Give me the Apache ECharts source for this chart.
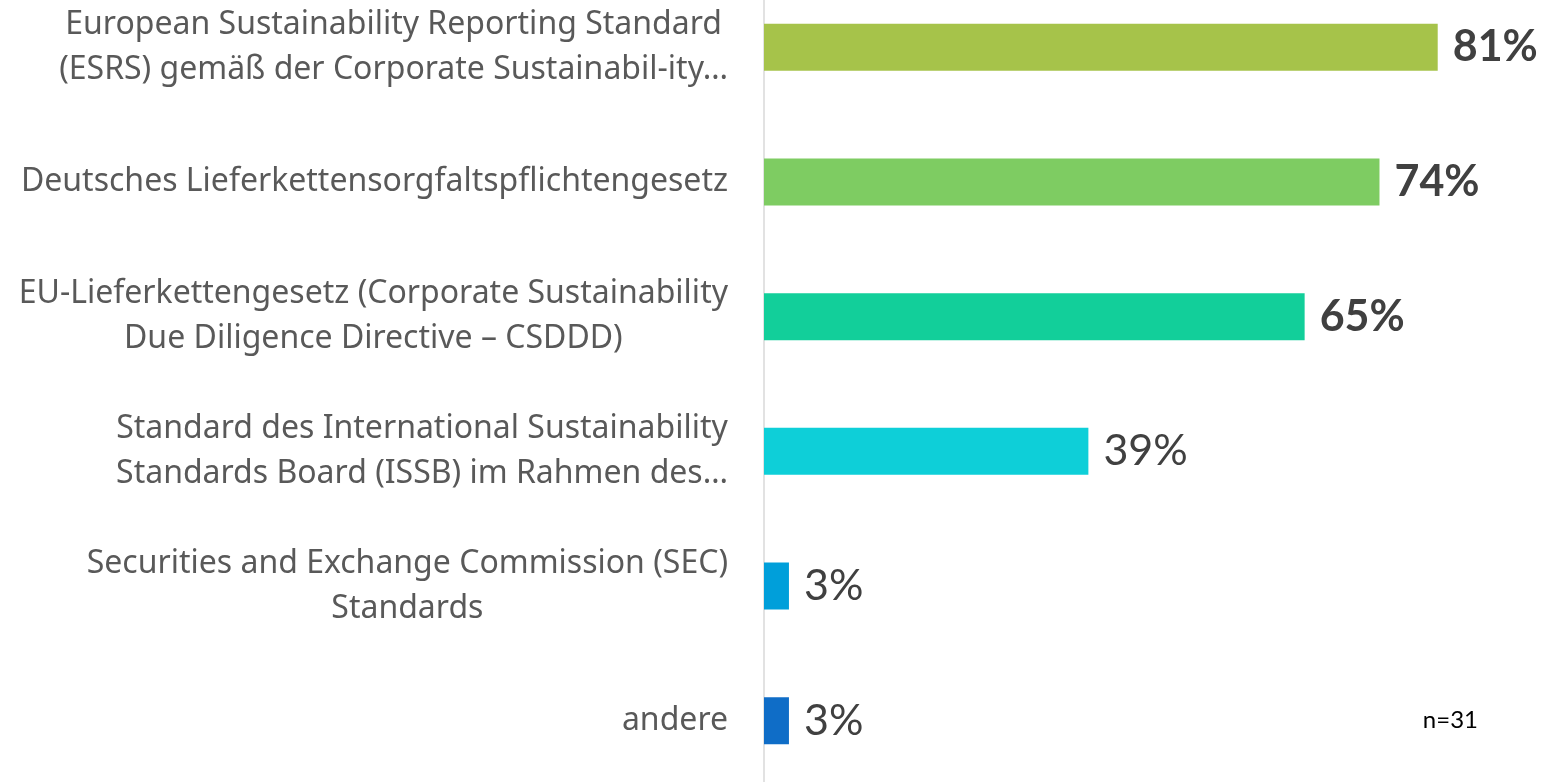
<!DOCTYPE html>
<html>
<head>
<meta charset="utf-8">
<script src="https://cdn.jsdelivr.net/npm/echarts@6/dist/echarts.min.js"></script>
<style>
    html, body { margin: 0; padding: 0; background: #fff; }
    #chart { width: 1550px; height: 782px; }
</style>
</head>
<body>
<div id="chart"></div>
<script>
// 类别（自上而下）
var categories = [
    'European Sustainability Reporting Standard\n(ESRS) gemäß der Corporate Sustainabil-ity…',
    'Deutsches Lieferkettensorgfaltspflichtengesetz',
    'EU-Lieferkettengesetz (Corporate Sustainability\nDue Diligence Directive – CSDDD)',
    'Standard des International Sustainability\nStandards Board (ISSB) im Rahmen des…',
    'Securities and Exchange Commission (SEC)\nStandards',
    'andere'
];
// 百分比数值
var values = [81, 74, 65, 39, 3, 3];
// 是否加粗显示标签
var boldLabels = [true, true, true, false, false, false];
// 每根柱子的颜色
var barColors = ['#A6C34A', '#7ECC62', '#12CF9A', '#0ECFD8', '#009FDA', '#0F6DC7'];
var sampleNote = 'n=31';

var chart = echarts.init(document.getElementById('chart'));

var seriesData = values.map(function (v, i) {
    return {
        value: v,
        itemStyle: { color: barColors[i] },
        label: {
            fontWeight: boldLabels[i] ? 'bold' : 'normal'
        }
    };
});

var option = {
    animation: false,
    backgroundColor: '#ffffff',
    grid: {
        left: 764,
        right: 0,
        top: -20,
        bottom: -6,
        containLabel: false,
        outerBoundsMode: 'none'
    },
    xAxis: {
        type: 'value',
        min: 0,
        max: 94.5,
        show: false
    },
    yAxis: {
        type: 'category',
        inverse: true,
        data: categories,
        axisLine: { show: true, lineStyle: { color: '#D9D9D9', width: 1.5 } },
        axisTick: { show: false },
        splitLine: { show: false },
        axisLabel: {
            margin: 36,
            color: '#595959',
            fontFamily: 'Noto Sans',
            fontSize: 32,
            lineHeight: 45,
            formatter: function (value) {
                // 多行标签每行居中
                return value.split('\n').map(function (line) {
                    return '{c|' + line + '}';
                }).join('\n');
            },
            rich: {
                c: {
                    align: 'center',
                    color: '#595959',
                    fontFamily: 'Noto Sans',
                    fontSize: 32,
                    lineHeight: 45
                }
            }
        }
    },
    series: [{
        type: 'bar',
        barWidth: 47,
        data: seriesData,
        label: {
            show: true,
            position: 'right',
            distance: 15,
            color: '#404040',
            fontFamily: 'Lato',
            fontSize: 43,
            formatter: '{c}%'
        }
    }],
    graphic: [{
        type: 'text',
        right: 72,
        top: 708,
        style: {
            text: sampleNote,
            fontFamily: 'Lato',
            fontSize: 24,
            fill: '#000000'
        }
    }]
};

chart.setOption(option);
</script>
</body>
</html>
